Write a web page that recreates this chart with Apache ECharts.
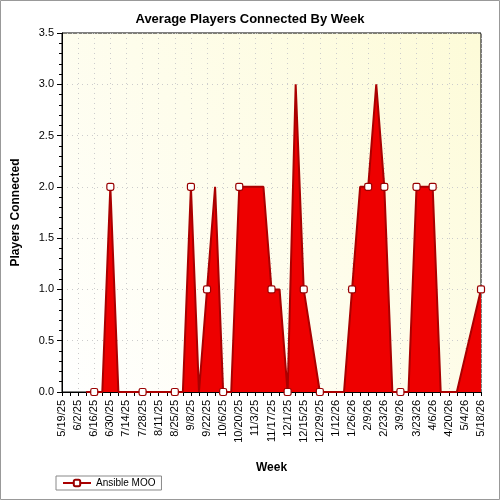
<!DOCTYPE html>
<html>
<head>
<meta charset="utf-8">
<script src="https://cdn.jsdelivr.net/npm/echarts@6/dist/echarts.min.js"></script>
<style>
  html, body { margin: 0; padding: 0; }
  #chart { width: 500px; height: 500px; }
</style>
</head>
<body>
<div id="chart"></div>
<script>
// weeks from 5/19/25 to 5/18/26
var weeks = [];
var start = new Date(2025, 4, 19);
for (var i = 0; i < 53; i++) {
  var d = new Date(start.getTime() + i * 7 * 86400000);
  weeks.push((d.getMonth() + 1) + '/' + d.getDate() + '/' + String(d.getFullYear()).slice(2));
}

// players per week, null = no sample
var players = [
  null, null, null, 0, 0, 0, 2, 0, null, null,
  0, 0, null, 0, 0, 0, 2, 0, 1, 2,
  0, 0, 2, null, null, 2, 1, 1, 0, 3,
  1, null, 0, 0, null, 0, 1, 2, 2, 3,
  2, 0, 0, 0, 2, 2, 2, 0, null, 0,
  null, null, 1
];

var chart = echarts.init(document.getElementById('chart'));

var option = {
  backgroundColor: {
    type: 'linear', x: 0, y: 0, x2: 1, y2: 1,
    colorStops: [{ offset: 0, color: '#ffffff' }, { offset: 1, color: '#ffffff' }]
  },
  title: {
    text: 'Average Players Connected By Week',
    left: 'center',
    top: 8,
    textStyle: { fontFamily: 'Liberation Sans', fontSize: 13, fontWeight: 'bold', color: '#000' }
  },
  graphic: [{
    type: 'rect',
    shape: { x: 0.5, y: 0.5, width: 499, height: 499 },
    style: { fill: 'none', stroke: '#999', lineWidth: 1 },
    z: 100
  }],
  legend: {
    left: 56,
    bottom: 10,
    itemWidth: 28,
    itemHeight: 8,
    padding: [2, 6],
    borderColor: '#888',
    borderWidth: 1,
    textStyle: { fontFamily: 'Liberation Sans', fontSize: 10, color: '#000' },
    data: ['Ansible MOO']
  },
  grid: {
    left: 62, right: 19, top: 33, bottom: 108,
    show: true,
    backgroundColor: {
      type: 'linear', x: 0, y: 1, x2: 1, y2: 0,
      colorStops: [{ offset: 0, color: '#ffffff' }, { offset: 1, color: '#fdfbd8' }]
    },
    borderColor: '#000',
    borderWidth: 1
  },
  xAxis: {
    type: 'category',
    data: weeks,
    boundaryGap: false,
    name: 'Week',
    nameLocation: 'middle',
    nameGap: 70,
    nameTextStyle: { fontFamily: 'Liberation Sans', fontSize: 12, fontWeight: 'bold', color: '#000' },
    axisLine: { lineStyle: { color: '#000' } },
    axisTick: { interval: 0, length: 4, lineStyle: { color: '#000' } },
    axisLabel: {
      interval: 1, rotate: 90,
      fontFamily: 'Liberation Sans', fontSize: 11, color: '#000'
    },
    splitLine: { show: true, interval: 1, lineStyle: { color: '#ccc', type: [1, 4] } }
  },
  yAxis: {
    type: 'value',
    min: 0, max: 3.5, interval: 0.5,
    name: 'Players Connected',
    nameLocation: 'middle',
    nameGap: 40,
    nameTextStyle: { fontFamily: 'Liberation Sans', fontSize: 12, fontWeight: 'bold', color: '#000' },
    axisLine: { show: true, lineStyle: { color: '#000' } },
    axisTick: { show: true, length: 5, lineStyle: { color: '#000' } },
    minorTick: { show: true, splitNumber: 5, length: 3, lineStyle: { color: '#000' } },
    axisLabel: {
      formatter: function (v) { return v.toFixed(1); },
      fontFamily: 'Liberation Sans', fontSize: 11, color: '#000'
    },
    splitLine: { show: true, lineStyle: { color: '#ccc', type: [1, 4] } }
  },
  series: [{
    name: 'Ansible MOO',
    type: 'line',
    data: players,
    connectNulls: true,
    symbol: 'roundRect',
    symbolSize: 7,
    itemStyle: { color: '#ffffff', borderColor: '#990000', borderWidth: 1.2 },
    lineStyle: { color: '#aa0000', width: 2 },
    areaStyle: { color: '#ee0000', opacity: 1 },
    animation: false
  }]
};

chart.setOption(option);
</script>
</body>
</html>
